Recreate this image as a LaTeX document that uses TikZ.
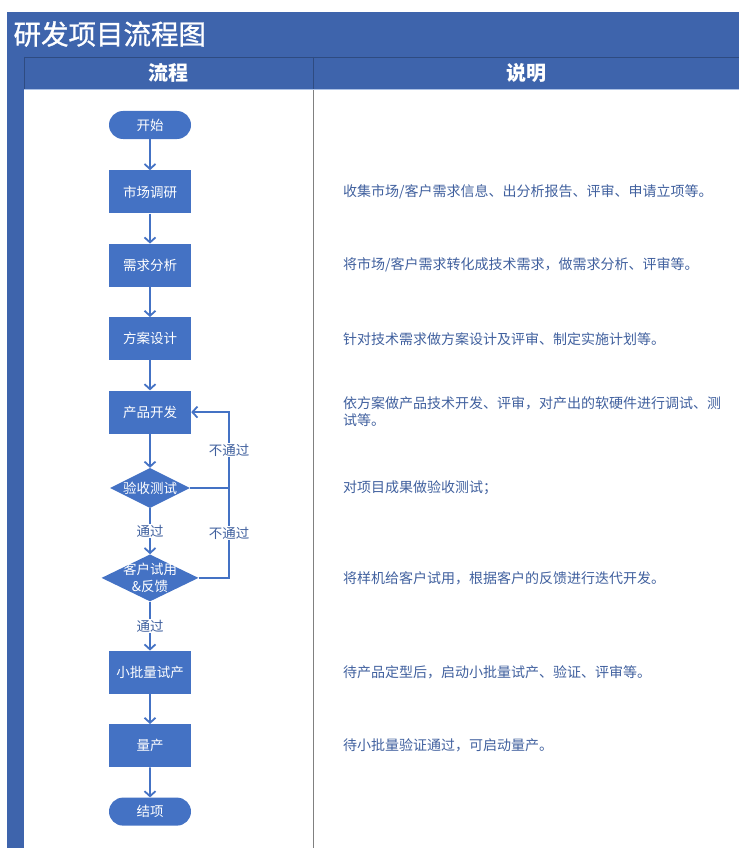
\documentclass[tikz,border=0pt]{standalone}
\usepackage{fontspec}
\setmainfont{Noto Sans CJK SC}
\newfontfamily\titlefont[FakeBold=1]{Noto Sans CJK SC}
\usepackage{tikz}
\usetikzlibrary{positioning,shapes.geometric,shapes.misc,arrows.meta}
\definecolor{barblue}{HTML}{3E64AC}
\definecolor{shapeblue}{HTML}{4472C4}
\definecolor{txtblue}{HTML}{40609E}

\begin{document}
\begin{tikzpicture}[x=1pt, y=-1pt, font=\fontsize{13.5}{17}\selectfont,
  box/.style = {rectangle, fill=shapeblue, text=white, minimum width=82pt, minimum height=43pt, inner sep=0pt},
  term/.style = {rounded rectangle, fill=shapeblue, text=white, minimum width=82pt, minimum height=28pt, inner sep=0pt},
  dec/.style = {diamond, fill=shapeblue, text=white, aspect=2, inner sep=0pt, align=center},
  desc/.style = {anchor=west, text=txtblue, align=left, inner sep=0pt, font=\fontsize{14}{17}\selectfont},
  lbl/.style = {fill=white, text=txtblue, inner sep=1pt},
  flow/.style = {-{Straight Barb[length=5pt, width=11pt]}, shapeblue, line width=1.8pt}]
\useasboundingbox (0,0) rectangle (739,848);

% title bar, header row and table lines
\fill[barblue] (7,12) rectangle (739,90);
\fill[barblue] (7,90) rectangle (24,848);
\draw[barblue!75!black, line width=0.6pt] (24,57) -- (739,57);
\draw[barblue!75!black, line width=0.6pt] (24,57) -- (24,90);
\draw[barblue!75!black, line width=0.6pt] (313,57) -- (313,90);
\draw[gray, line width=0.8pt] (313,90) -- (313,848);
\draw[shapeblue!45, line width=1pt] (24,90) -- (739,90);

\node[anchor=west, text=white, font=\titlefont\fontsize{27.5}{30}\selectfont] (title) at (10,34) {研发项目流程图};
\node[text=white, font=\fontsize{20}{24}\selectfont\bfseries] (h1) at (168.5,73) {流程};
\node[text=white, font=\fontsize{20}{24}\selectfont\bfseries] (h2) at (526,73) {说明};

% flow
\node[term] (1) at (150,125) {开始};
\node[box] (2) [below=31pt of 1] {市场调研};
\node[box] (3) [below=30pt of 2] {需求分析};
\node[box] (4) [below=30pt of 3] {方案设计};
\node[box] (5) [below=30pt of 4] {产品开发};
\node[dec, minimum width=80pt, minimum height=40pt] (6) [below=34pt of 5] {\makebox[0pt]{验收测试}};
\node[dec, minimum width=97pt, minimum height=47pt] (7) [below=46pt of 6] {\makebox[0pt]{客户试用}\\\makebox[0pt]{\&反馈}};
\node[box] (8) [below=49pt of 7] {小批量试产};
\node[box] (9) [below=30pt of 8] {量产};
\node[term] (10) [below=30pt of 9] {结项};

% descriptions
\node[desc] (d2) at ([xshift=193pt]2.center) {收集市场/客户需求信息、出分析报告、评审、申请立项等。};
\node[desc] (d3) at ([xshift=193pt]3.center) {将市场/客户需求转化成技术需求，做需求分析、评审等。};
\node[desc] (d4) at ([xshift=193pt]4.center) {针对技术需求做方案设计及评审、制定实施计划等。};
\node[desc] (d5) at ([xshift=193pt]5.center) {依方案做产品技术开发、评审，对产出的软硬件进行调试、测\\试等。};
\node[desc] (d6) at ([xshift=193pt]6.center) {对项目成果做验收测试；};
\node[desc] (d7) at ([xshift=193pt]7.center) {将样机给客户试用，根据客户的反馈进行迭代开发。};
\node[desc] (d8) at ([xshift=193pt]8.center) {待产品定型后，启动小批量试产、验证、评审等。};
\node[desc] (d9) at ([xshift=193pt]9.center) {待小批量验证通过，可启动量产。};

\draw[flow] (1) -- (2);
\draw[flow] (2) -- (3);
\draw[flow] (3) -- (4);
\draw[flow] (4) -- (5);
\draw[flow] (5) -- (6);
\draw[flow] (6) -- node[lbl] {通过} (7);
\draw[flow] (7) -- node[lbl] {通过} (8);
\draw[flow] (8) -- (9);
\draw[flow] (9) -- (10);

% feedback loop
\coordinate (back) at ([xshift=79pt]5.center);
\draw[shapeblue, line width=1.8pt] (6.east) -- (6.east -| back);
\draw[flow] (7.east) -- (7.east -| back) -- node[lbl] {不通过} (6.east -| back) -- node[lbl] {不通过} (back) -- (5.east);

\end{tikzpicture}
\end{document}
